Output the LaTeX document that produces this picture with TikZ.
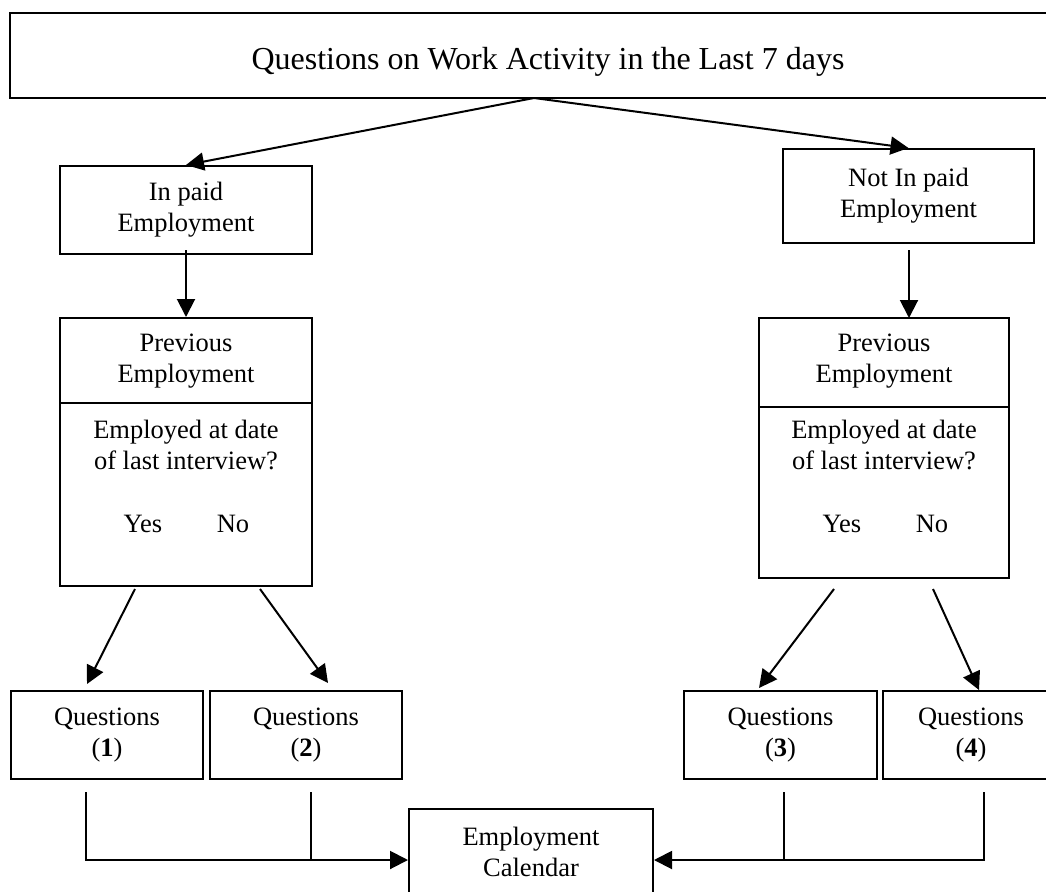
\documentclass[tikz,border=0pt]{standalone}
\usepackage{fontspec}
\setmainfont{Liberation Serif}
\usetikzlibrary{arrows.meta}
\newcommand\fsz{\fontsize{26.5pt}{31pt}\selectfont}
\newcommand\fszt{\fontsize{32pt}{38pt}\selectfont}
\begin{document}
\begin{tikzpicture}[x=1pt,y=-1pt,
  box/.style={draw, line width=2pt, inner sep=0pt, align=center, font=\fsz},
  txt/.style={inner sep=0pt, align=center, font=\fsz},
  arr/.style={line width=2pt, -{Triangle[length=18pt,width=18pt]}},
  ln/.style={line width=2pt}]
\useasboundingbox (0,0) rectangle (1046,891);
\clip (0,0) rectangle (1046,891);
\fill[white] (0,0) rectangle (1046,891);

% title
\node[box, minimum width=1040pt, minimum height=85pt] (top) at (530,55.5) {};
\node[inner sep=0pt, font=\fszt, anchor=base] (title) at (548,70) {Questions on Work Activity in the Last 7 days};

% second level
\node[box, minimum width=252pt, minimum height=88pt] (inpaid) at (186,210) {In paid\\Employment};
\node[box, minimum width=251pt, minimum height=94pt] (notpaid) at (908.5,196) {Not In paid\\Employment};

% previous employment boxes
\node[box, minimum width=252pt, minimum height=268pt] (prevL) at (186,452) {};
\draw[ln] (prevL.west |- 0,403) coordinate (divLa) -- (prevL.east |- 0,403) coordinate (divLb);
\node[txt] (prevLt) at (186,361) {Previous\\Employment};
\node[txt] (prevLq) at (186,445) {Employed at date\\of last interview?};
\node[txt, anchor=base] (yesL) at (143,532) {Yes};
\node[txt, anchor=base] (noL) at (233,532) {No};

\node[box, minimum width=250pt, minimum height=260pt] (prevR) at (884,448) {};
\draw[ln] (prevR.west |- 0,407) coordinate (divRa) -- (prevR.east |- 0,407) coordinate (divRb);
\node[txt] (prevRt) at (884,361) {Previous\\Employment};
\node[txt] (prevRq) at (884,445) {Employed at date\\of last interview?};
\node[txt, anchor=base] (yesR) at (842,532) {Yes};
\node[txt, anchor=base] (noR) at (932,532) {No};

% question boxes
\node[box, minimum width=192pt, minimum height=88pt] (q1) at (107,735) {Questions\\(\textbf{1})};
\node[box, minimum width=192pt, minimum height=88pt] (q2) at (306,735) {Questions\\(\textbf{2})};
\node[box, minimum width=193pt, minimum height=88pt] (q3) at (780.5,735) {Questions\\(\textbf{3})};
\node[box, minimum width=176pt, minimum height=88pt] (q4) at (971,735) {Questions\\(\textbf{4})};

% calendar
\node[box, minimum width=244pt, minimum height=86pt] (cal) at (531,852) {Employment\\Calendar};

% coordinates for free ends
\coordinate (apex) at (534,98);
\coordinate (ipS) at (186,250);
\coordinate (npS) at (909,250);
\coordinate (prR) at (909,318);
\coordinate (yLs) at (135,589);
\coordinate (yLe) at (87,684);
\coordinate (nLs) at (260,589);
\coordinate (nLe) at (328,683);
\coordinate (yRs) at (834,589);
\coordinate (yRe) at (759,688);
\coordinate (nRs) at (933,589);
\coordinate (nRe) at (979,690);
\coordinate (q1s) at (86,792);
\coordinate (q1c) at (86,860);
\coordinate (q2s) at (311,792);
\coordinate (q2c) at (311,860);
\coordinate (q3s) at (784,792);
\coordinate (q3c) at (784,860);
\coordinate (q4s) at (984,792);
\coordinate (q4c) at (984,860);

% arrows
\draw[arr] (apex) -- (inpaid.north);
\draw[arr] (apex) -- (notpaid.north);
\draw[arr] (ipS) -- (prevL.north);
\draw[arr] (npS) -- (prR);
\draw[arr] (yLs) -- (yLe);
\draw[arr] (nLs) -- (nLe);
\draw[arr] (yRs) -- (yRe);
\draw[arr] (nRs) -- (nRe);
\draw[arr] (q1s) -- (q1c) -- (cal.west |- q1c);
\draw[ln] (q2s) -- (q2c);
\draw[arr] (q4s) -- (q4c) -- (cal.east |- q4c);
\draw[ln] (q3s) -- (q3c);
\end{tikzpicture}
\end{document}
